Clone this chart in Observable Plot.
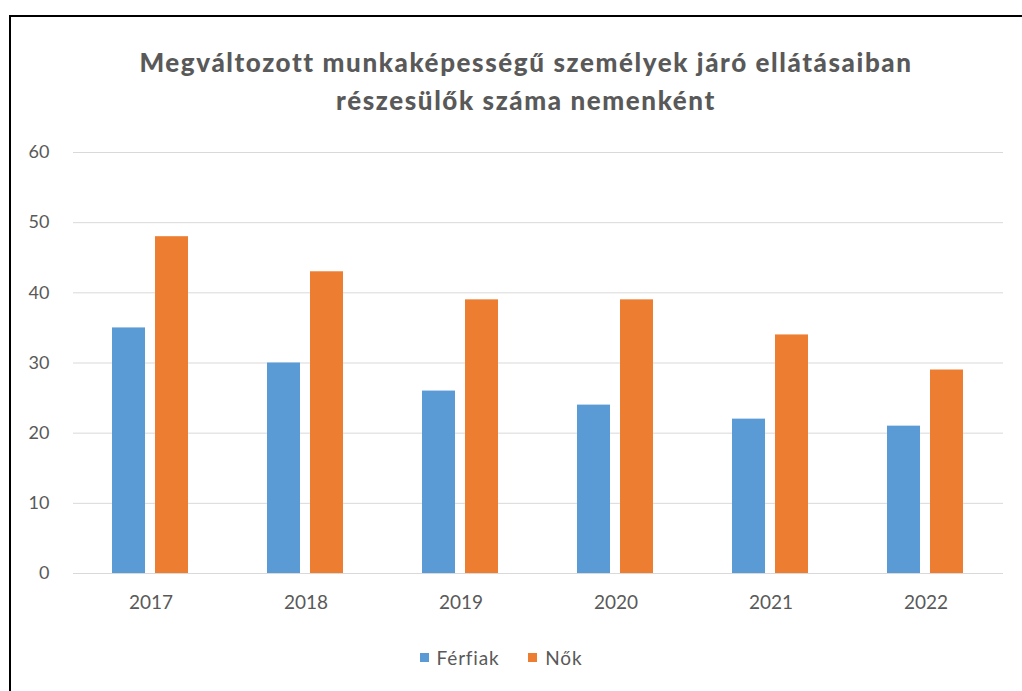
<!DOCTYPE html>
<html>
<head>
<meta charset="utf-8">
<script src="https://cdn.jsdelivr.net/npm/d3@7"></script>
<script src="https://cdn.jsdelivr.net/npm/@observablehq/plot@0.6"></script>
<style>
  html, body { margin: 0; padding: 0; background: #fff; }
  body { width: 1022px; height: 691px; position: relative; overflow: hidden; font-family: Lato, "Open Sans", sans-serif; }
  #frame { position: absolute; left: 9px; top: 15px; width: 1100px; height: 800px; border: 2px solid #000; box-sizing: border-box; }
  #title { position: absolute; left: 0; width: 1052px; top: 43px; text-align: center; font-weight: 900; font-size: 26px; letter-spacing: 1.6px; line-height: 38px; color: #595959; }
  #chart { position: absolute; left: 0; top: 140px; }
  #legend { position: absolute; top: 646px; left: 0; width: 1002px; display: flex; justify-content: center; gap: 29px; font-size: 19px; letter-spacing: 0.8px; color: #595959; }
  #legend span.item { display: flex; align-items: center; }
  #legend i { display: inline-block; width: 9px; height: 9px; margin-right: 8px; }
</style>
</head>
<body>
<div id="frame"></div>
<div id="title">Megváltozott munkaképességű személyek járó ellátásaiban<br>részesülők száma nemenként</div>
<div id="chart"></div>
<div id="legend"></div>
<script>
// Recipients of benefits for people with reduced work capacity, by sex
const years = ["2017", "2018", "2019", "2020", "2021", "2022"];
const series = ["Férfiak", "Nők"];
const ferfiak = [35, 30, 26, 24, 22, 21];
const nok = [48, 43, 39, 39, 34, 29];
const colors = ["#5B9BD5", "#ED7D31"];
const yTicks = [0, 10, 20, 30, 40, 50, 60];

const rows = years.flatMap((y, i) => [
  {year: y, sex: series[0], value: ferfiak[i]},
  {year: y, sex: series[1], value: nok[i]}
]);

const chart = Plot.plot({
  width: 1022,
  height: 480,
  marginLeft: 73,
  marginRight: 19,
  marginTop: 12,
  marginBottom: 47,
  style: {fontFamily: "Lato, 'Open Sans', sans-serif", fontSize: "18px", color: "#595959", background: "transparent"},
  fx: {domain: years, padding: 0, label: null},
  x: {domain: series, paddingInner: 0.227, paddingOuter: 0.875, axis: null},
  y: {domain: [0, 60], label: null},
  color: {domain: series, range: colors},
  marks: [
    Plot.ruleY(yTicks, {stroke: "#d9d9d9", strokeWidth: 1}),
    Plot.barY(rows, {fx: "year", x: "sex", y: "value", fill: "sex"}),
    Plot.axisY({ticks: yTicks, tickSize: 0, tickPadding: 24, label: null, fill: "#595959"}),
    Plot.axisFx({anchor: "bottom", tickSize: 0, tickPadding: 22, label: null, fill: "#595959", fontSize: 19})
  ]
});
document.getElementById("chart").appendChild(chart);

const legend = document.getElementById("legend");
series.forEach((s, i) => {
  const item = document.createElement("span");
  item.className = "item";
  const sw = document.createElement("i");
  sw.style.background = colors[i];
  item.appendChild(sw);
  item.appendChild(document.createTextNode(s));
  legend.appendChild(item);
});
</script>
</body>
</html>
